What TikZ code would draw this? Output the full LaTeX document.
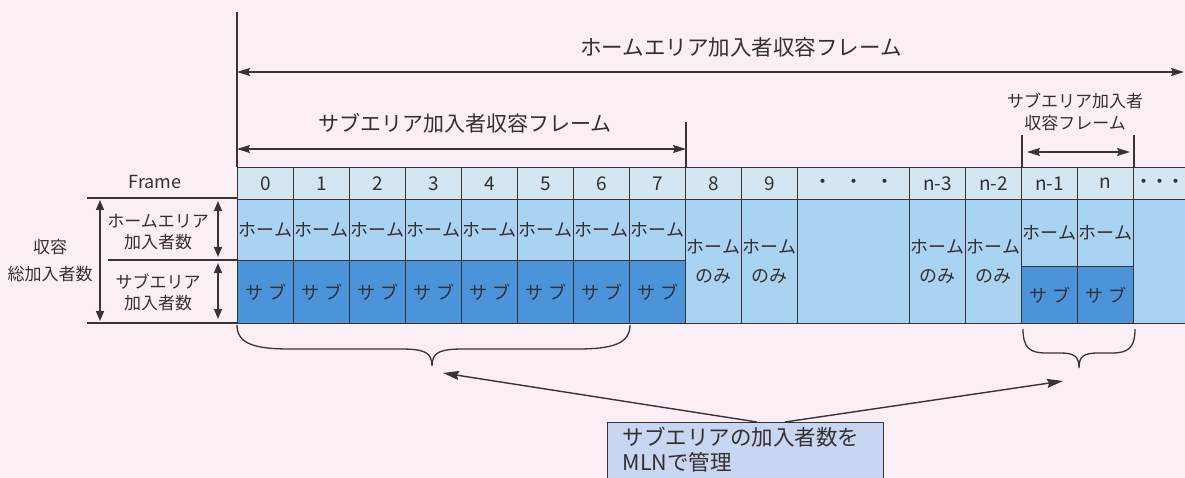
\documentclass[tikz,border=0pt]{standalone}
\usepackage{fontspec}
\setmainfont{Noto Sans CJK JP}
\usetikzlibrary{arrows.meta}
\definecolor{bg}{HTML}{FBEFF6}
\definecolor{hdr}{HTML}{D3E6F1}
\definecolor{homec}{HTML}{A9D3F1}
\definecolor{subc}{HTML}{4B94D9}
\definecolor{boxc}{HTML}{C8D6F1}
\definecolor{ln}{HTML}{3A3335}
\definecolor{tx}{HTML}{333033}
\begin{document}
\begin{tikzpicture}[x=1pt,y=-1pt,
  every node/.style={text=tx},
  cellbase/.style={draw=ln, line width=1.1pt, inner sep=0pt, anchor=north west, minimum width=56pt, align=center, font=\fontsize{18}{29}\selectfont},
  hdrcell/.style={cellbase, fill=hdr, minimum height=32pt, font=\fontsize{19}{22}\selectfont},
  homecell/.style={cellbase, fill=homec},
  subcell/.style={cellbase, fill=subc},
  lab/.style={inner sep=0pt, align=center, font=\fontsize{17}{21}\selectfont},
  toplab/.style={inner sep=0pt, align=center, font=\fontsize{21.5}{25}\selectfont},
  darr/.style={{Stealth[length=13pt,width=8pt,inset=2pt]}-{Stealth[length=13pt,width=8pt,inset=2pt]}, line width=1.4pt, draw=ln},
  varr/.style={{Triangle[length=10pt,width=8pt]}-{Triangle[length=10pt,width=8pt]}, line width=1.3pt, draw=ln},
  sarr/.style={-{Stealth[length=16pt,width=9pt,inset=2pt]}, line width=1.4pt, draw=ln},
  thin/.style={line width=1.1pt, draw=ln},
  brc/.style={line width=1.3pt, draw=ln}]
\useasboundingbox (0,0) rectangle (1185,478);
\fill[bg] (0,0) rectangle (1185,478);
\clip (0,0) rectangle (1185,478);

% top dimension lines
\coordinate (v0t) at (237,12);
\coordinate (v0b) at (237,167);
\draw[thin] (v0t) -- (v0b);
\coordinate (v1t) at (686,122);
\coordinate (v1b) at (686,167);
\draw[thin] (v1t) -- (v1b);
\coordinate (v2t) at (1022,135);
\coordinate (v2b) at (1022,167);
\draw[thin] (v2t) -- (v2b);
\coordinate (v3t) at (1134,135);
\coordinate (v3b) at (1134,167);
\draw[thin] (v3t) -- (v3b);

\node[toplab] (homeframe) at (741,47) {ホームエリア加入者収容フレーム};
\coordinate (a1l) at (237,72);
\coordinate (a1r) at (1184,72);
\draw[darr] (a1l) -- (a1r);

\node[toplab, font=\fontsize{21}{25}\selectfont] (subframe) at (465,123) {サブエリア加入者収容フレーム};
\coordinate (a2l) at (237,149);
\coordinate (a2r) at (686,149);
\draw[darr] (a2l) -- (a2r);

\node[toplab, font=\fontsize{17}{22}\selectfont] (subframe2) at (1075,112) {サブエリア加入者\\収容フレーム};
\coordinate (a3l) at (1027,152);
\coordinate (a3r) at (1130,152);
\draw[darr] (a3l) -- (a3r);

% table: frames 0..7
\foreach \i in {0,...,7} {
  \pgfmathsetmacro\xx{237+56*\i}
  \node[hdrcell] (h\i) at (\xx,167) {\i};
  \node[homecell, minimum height=61pt] (m\i) at (\xx,199) {\raisebox{-2pt}{ホーム}};
  \node[subcell, minimum height=63pt] (s\i) at (\xx,260) {\raisebox{-2pt}{サ\hspace{5pt}ブ}};
}
% home only frames
\foreach \xx/\t/\nm in {685/8/a, 741/9/b, 909/n-3/c, 965/n-2/d} {
  \node[hdrcell] (h\nm) at (\xx,167) {\t};
  \node[homecell, minimum height=124pt] (m\nm) at (\xx,199) {ホーム\\のみ};
}
% wide dots column
\node[hdrcell, minimum width=112pt] (hdots) at (797,167) {・\hspace{12pt}・\hspace{12pt}・};
\node[homecell, minimum width=112pt, minimum height=124pt] (mdots) at (797,199) {};
% n-1, n
\foreach \xx/\t/\nm in {1021/n-1/e, 1077/n/f} {
  \node[hdrcell] (h\nm) at (\xx,167) {\t};
  \node[homecell, minimum height=67pt] (m\nm) at (\xx,199) {ホーム};
  \node[subcell, minimum height=57pt] (s\nm) at (\xx,266) {\raisebox{-2pt}{サ\hspace{5pt}ブ}};
}
% trailing column
\node[hdrcell, minimum width=70pt, text width=70pt, align=left] (hlast) at (1133,167) {\hspace{1pt}・\hspace{-3pt}・\hspace{-3pt}・};
\node[homecell, minimum width=70pt, minimum height=124pt] (mlast) at (1133,199) {};

% left side labels
\node[lab, font=\fontsize{18}{21}\selectfont] (framelab) at (155,182) {Frame};
\coordinate (l1a) at (87,198);  \coordinate (l1b) at (237,198);
\coordinate (l2a) at (108,260); \coordinate (l2b) at (237,260);
\coordinate (l3a) at (87,323);  \coordinate (l3b) at (237,323);
\draw[thin] (l1a) -- (l1b);
\draw[thin] (l2a) -- (l2b);
\draw[thin] (l3a) -- (l3b);
\coordinate (t1) at (100,200); \coordinate (t2) at (100,321);
\draw[varr] (t1) -- (t2);
\coordinate (r1) at (218,201); \coordinate (r2) at (218,257);
\draw[varr] (r1) -- (r2);
\coordinate (r3) at (218,263); \coordinate (r4) at (218,319);
\draw[varr] (r3) -- (r4);
\node[lab] (homecnt) at (158,232) {ホームエリア\\加入者数};
\node[lab] (subcnt) at (158,292) {サブエリア\\加入者数};
\node[lab, font=\fontsize{17}{27}\selectfont] (totcnt) at (50,261) {収容\\総加入者数};

% braces
\coordinate (b1tip) at (432,366);
\draw[brc] (237,325) .. controls (237,344) and (255,349) .. (290,349) -- (400,349)
  .. controls (424,349) and (432,352) .. (b1tip)
  .. controls (432,352) and (440,349) .. (464,349) -- (577,349)
  .. controls (612,349) and (630,344) .. (630,325);
\coordinate (b2tip) at (1079,368);
\draw[brc] (1023,329) .. controls (1023,348) and (1030,353) .. (1046,353) -- (1060,353)
  .. controls (1074,353) and (1079,356) .. (b2tip)
  .. controls (1079,356) and (1084,353) .. (1098,353) -- (1112,353)
  .. controls (1128,353) and (1135,348) .. (1135,329);

% note box
\node[draw=ln, line width=1.1pt, fill=boxc, anchor=north west,
      text width=246pt, inner xsep=15pt, inner ysep=5pt, align=left,
      font=\fontsize{21.5}{25}\selectfont]
      (mln) at (607,422) {サブエリアの加入者数を\\MLNで管理\rule[-30pt]{0pt}{30pt}};
\coordinate (mlnL) at (757,422);
\coordinate (mlnR) at (785,422);
\coordinate (p1) at (443,373);
\coordinate (p2) at (1063,381);
\draw[sarr] (mlnL) -- (p1);
\draw[sarr] (mlnR) -- (p2);
\end{tikzpicture}
\end{document}
